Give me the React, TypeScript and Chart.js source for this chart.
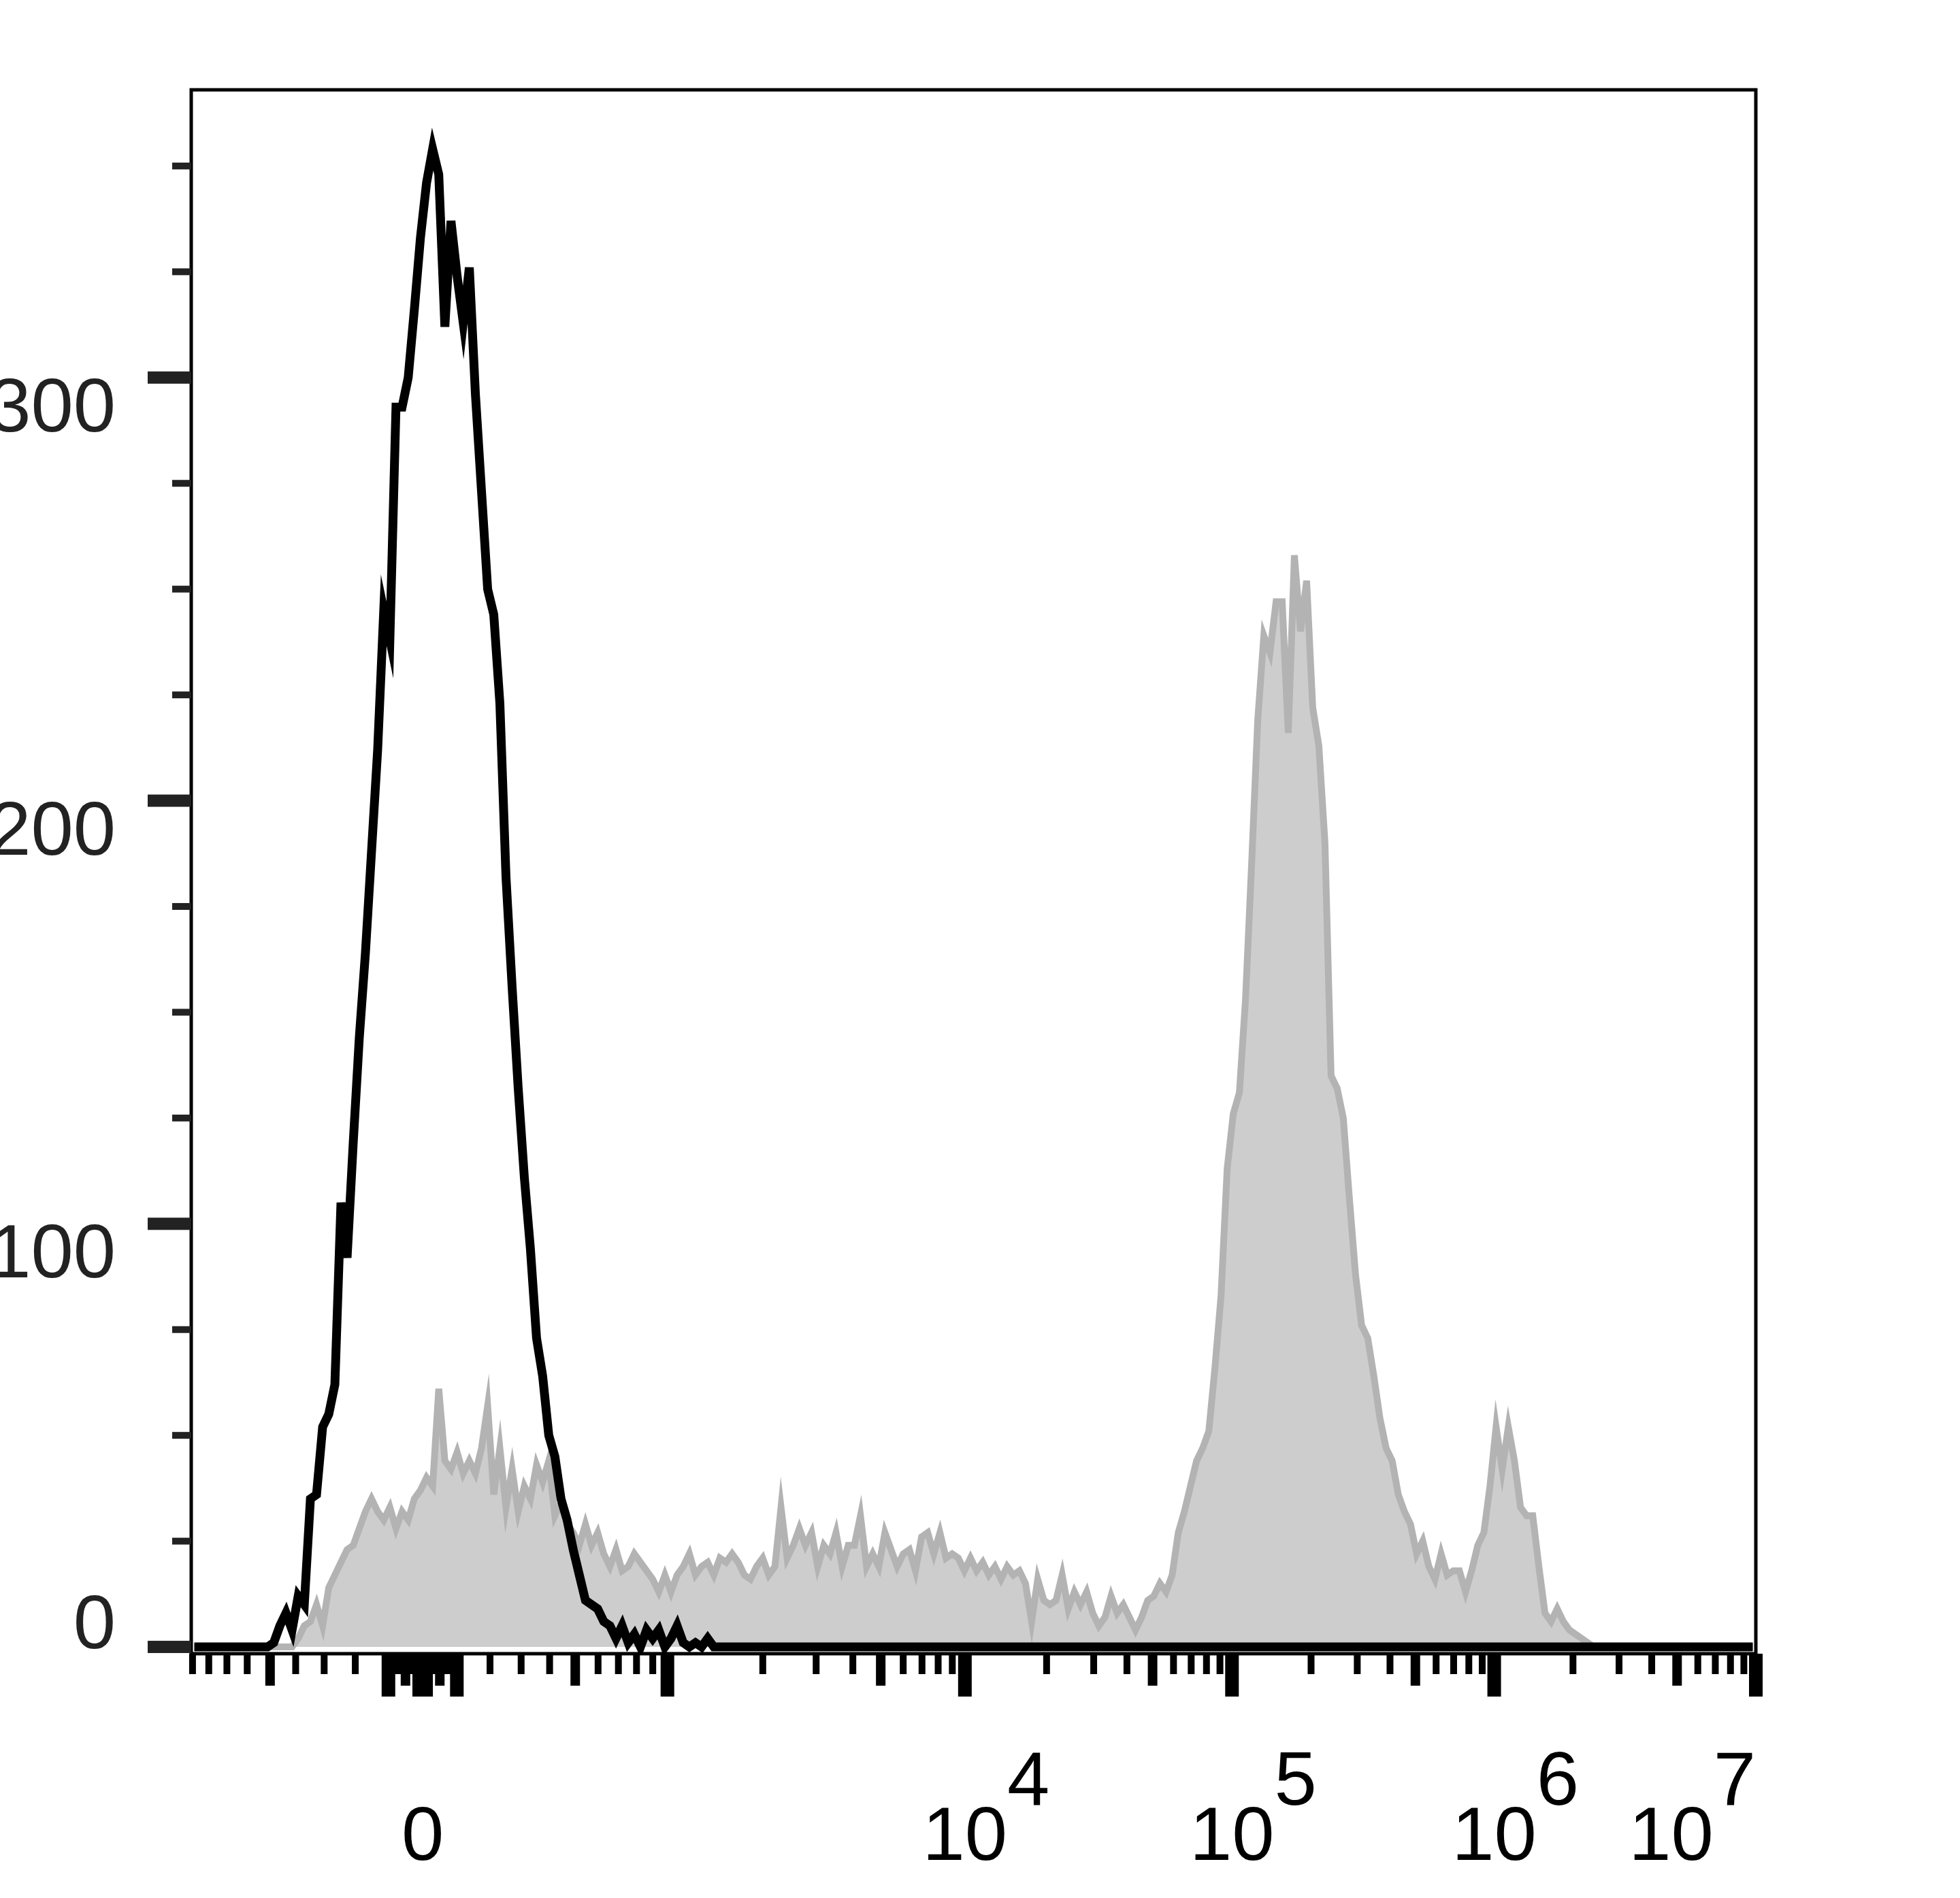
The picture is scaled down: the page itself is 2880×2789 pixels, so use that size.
import React, { useEffect, useRef } from 'react';
import { Chart, registerables } from 'chart.js';

Chart.register(...registerables);

// ---------------- data (histogram counts per display bin) ----------------
const BIN_COUNT = 256;

const blackStartBin = 13;
const blackCounts = [
  1, 5, 8, 4, 12, 10, 35, 36, 52, 55, 62, 105, 92, 119, 144, 164, 188, 212, 245, 238,
  293, 293, 300, 316, 333, 346, 354, 348, 312, 337, 324, 313, 326, 296, 273, 250, 244, 223, 182, 156,
  132, 111, 94, 73, 64, 50, 45, 35, 30, 23, 17, 11, 10, 9, 6, 5, 2, 5, 1, 3,
  0, 4, 2, 4, 0, 2, 5, 1, 0, 1, 0, 2, 0,
];

const grayStartBin = 17;
const grayCounts = [
  2, 5, 6, 10, 5, 14, 17, 20, 23, 24, 28, 32, 35, 32, 30, 33, 28, 32, 30, 35,
  37, 40, 38, 61, 44, 42, 46, 41, 44, 41, 47, 57, 36, 47, 33, 42, 32, 38, 35, 43,
  39, 44, 31, 34, 29, 27, 24, 29, 24, 27, 22, 19, 23, 18, 19, 22, 20, 18, 16, 13,
  17, 13, 17, 19, 22, 17, 19, 20, 17, 21, 20, 22, 20, 17, 16, 19, 21, 17, 19, 33,
  21, 24, 28, 24, 27, 19, 24, 22, 27, 19, 24, 24, 31, 19, 22, 19, 27, 23, 19, 22,
  23, 18, 26, 27, 22, 27, 21, 22, 21, 18, 21, 18, 20, 17, 19, 16, 19, 17, 18, 15,
  6, 16, 11, 10, 11, 17, 9, 13, 10, 13, 8, 5, 7, 12, 8, 10, 7, 4, 7, 11,
  12, 15, 13, 17, 27, 32, 38, 44, 47, 51, 66, 83, 113, 126, 131, 153, 185, 219, 239, 235,
  247, 247, 216, 258, 240, 252, 222, 213, 190, 135, 132, 125, 106, 88, 76, 73, 64, 54, 47, 44,
  36, 32, 29, 22, 25, 19, 16, 22, 17, 18, 18, 13, 18, 24, 27, 38, 52, 42, 52, 44,
  33, 31, 31, 19, 8, 6, 9, 6, 4, 3, 2, 1,
];

// ---------------- axes ----------------
const yMajorTicks = [0, 100, 200, 300];
const yTickLabels = ['0', '100', '200', '300'];
const yMinorTicks = [25, 50, 75, 125, 150, 175, 225, 250, 275, 325, 350];
const Y_MIN = -1.6;
const Y_MAX = 368;

const xLabelValues = [0, 1e4, 1e5, 1e6, 1e7];
const xLabelBases = ['0', '10', '10', '10', '10'];
const xLabelExponents = ['', '4', '5', '6', '7'];
const xTickDecades = [10, 100, 1000, 1e4, 1e5, 1e6, 1e7];

// logicle-style (biexponential) display transform
const LOGICLE_K = 80;
const LOGICLE_P = 3.13;
function dataFromDisplay(z: number): number {
  const a = Math.abs(z);
  const p = LOGICLE_P;
  const s = LOGICLE_K * (Math.pow(10, a) - p * p * Math.pow(10, -a / p) + p * p - 1);
  return z < 0 ? -s : s;
}
function displayFromData(v: number): number {
  const t = Math.abs(v);
  let lo = 0;
  let hi = 10;
  for (let k = 0; k < 80; k++) {
    const mid = (lo + hi) / 2;
    if (dataFromDisplay(mid) < t) lo = mid;
    else hi = mid;
  }
  const z = (lo + hi) / 2;
  return v < 0 ? -z : z;
}
const X_MIN = -0.8847;
const X_MAX = displayFromData(1e7);

type TickKind = 'major' | 'medium' | 'minor';
function buildXTicks(): { v: number; kind: TickKind }[] {
  const out: { v: number; kind: TickKind }[] = [{ v: 0, kind: 'major' }];
  for (const d of xTickDecades) {
    for (let k = 1; k <= 9; k++) {
      const v = k * d;
      if (v > 1e7) break;
      const kind: TickKind = k === 1 ? 'major' : k === 5 ? 'medium' : 'minor';
      out.push({ v, kind });
      out.push({ v: -v, kind });
    }
  }
  return out;
}

function buildSeries(start: number, counts: number[]) {
  const w = (X_MAX - X_MIN) / BIN_COUNT;
  const pts: { x: number; y: number }[] = [];
  for (let i = 0; i < BIN_COUNT; i++) {
    const j = i - start;
    const y = j >= 0 && j < counts.length ? counts[j] : 0;
    pts.push({ x: X_MIN + (i + 0.5) * w, y });
  }
  return pts;
}

const FONT = '"Liberation Sans", Arial, Helvetica, sans-serif';

const axesPlugin = {
  id: 'flowAxes',
  afterDraw(chart: any) {
    const { ctx, chartArea } = chart;
    const xs = chart.scales.x;
    const ys = chart.scales.y;
    const { left, right, top, bottom } = chartArea;
    ctx.save();

    // frame
    ctx.strokeStyle = '#000';
    ctx.lineWidth = 5;
    ctx.strokeRect(left, top, right - left, bottom - top);

    // y ticks
    ctx.fillStyle = '#222';
    for (const v of yMinorTicks) {
      const py = ys.getPixelForValue(v);
      ctx.fillRect(left - 28, py - 5, 28, 10);
    }
    for (const v of yMajorTicks) {
      const py = ys.getPixelForValue(v);
      ctx.fillRect(left - 64, py - 9, 64, 18);
    }
    // y labels
    ctx.font = `112px ${FONT}`;
    ctx.textAlign = 'right';
    ctx.textBaseline = 'alphabetic';
    yMajorTicks.forEach((v, i) => {
      const py = ys.getPixelForValue(v);
      const base = v === 0 ? py + 2 : py + 79;
      ctx.fillText(yTickLabels[i], 170, base);
    });

    // x ticks
    ctx.fillStyle = '#000';
    for (const t of buildXTicks()) {
      const px = xs.getPixelForValue(displayFromData(t.v));
      if (px < left - 2 || px > right + 2) continue;
      if (t.kind === 'major') ctx.fillRect(px - 10, bottom, 20, 63);
      else if (t.kind === 'medium') ctx.fillRect(px - 7, bottom, 14, 47);
      else ctx.fillRect(px - 5, bottom, 10, 30);
    }

    // x labels
    ctx.font = `112px ${FONT}`;
    ctx.textAlign = 'left';
    ctx.textBaseline = 'alphabetic';
    const baseY = 2733;
    const expY = 2652;
    xLabelValues.forEach((v, i) => {
      const px = xs.getPixelForValue(displayFromData(v));
      const b = xLabelBases[i];
      const e = xLabelExponents[i];
      const wb = ctx.measureText(b).width;
      const we = e ? ctx.measureText(e).width : 0;
      let start = px - wb / 2;
      if (start + wb + we > right) start = right - wb - we;
      ctx.fillText(b, start, baseY);
      if (e) ctx.fillText(e, start + wb, expY);
    });

    ctx.restore();
  },
};

export default function App() {
  const canvasRef = useRef<HTMLCanvasElement | null>(null);

  useEffect(() => {
    document.body.style.margin = '0';
    const canvas = canvasRef.current;
    if (!canvas) return;
    const chart = new Chart(canvas, {
      type: 'line',
      data: {
        datasets: [
          {
            label: 'Control',
            data: buildSeries(blackStartBin, blackCounts),
            borderColor: '#000000',
            borderWidth: 13,
            pointRadius: 0,
            tension: 0,
            fill: false,
            order: 0,
          },
          {
            label: 'Stained',
            data: buildSeries(grayStartBin, grayCounts),
            borderColor: '#b3b3b3',
            backgroundColor: '#cdcdcd',
            borderWidth: 10,
            pointRadius: 0,
            tension: 0,
            fill: 'origin',
            order: 1,
          },
        ],
      },
      options: {
        animation: false,
        responsive: false,
        maintainAspectRatio: false,
        devicePixelRatio: 1,
        layout: { padding: { left: 281, right: 300, top: 132, bottom: 359 } },
        plugins: { legend: { display: false }, tooltip: { enabled: false } },
        scales: {
          x: { type: 'linear', min: X_MIN, max: X_MAX, display: false },
          y: { type: 'linear', min: Y_MIN, max: Y_MAX, display: false },
        },
      },
      plugins: [axesPlugin],
    });
    return () => chart.destroy();
  }, []);

  return (
    <div style={{ width: 2880, height: 2789, position: 'relative', background: '#fff' }}>
      <canvas
        ref={canvasRef}
        width={2880}
        height={2789}
        style={{ display: 'block', width: '2880px', height: '2789px' }}
      />
    </div>
  );
}
